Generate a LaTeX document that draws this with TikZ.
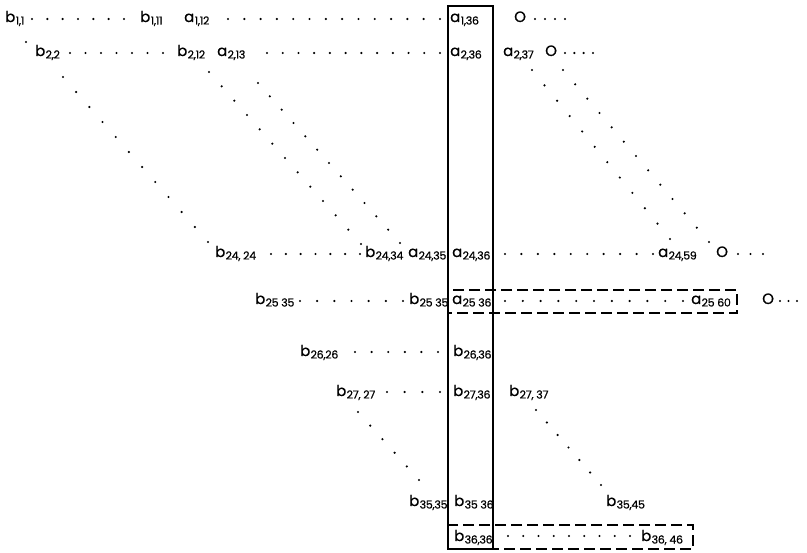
\documentclass[tikz,border=0pt]{standalone}
\usepackage{fontspec}
\setmainfont{Poppins}[FakeBold=0.6]
\newfontfamily\subfnt{Poppins}[FakeBold=0.6, LetterSpace=-2.5]
\usetikzlibrary{calc}
\newcommand\lb[2]{#1\kern0.3pt\raisebox{-2.5pt}{\subfnt\fontsize{11}{12}\selectfont#2}}
\newcommand\dotrun[5]{%
  \path ($(#1.base west)+#2$) coordinate (ds) ($(#3.base west)+#4$) coordinate (de);
  \foreach \k in {1,...,#5}{\fill ($(ds)!{(\k-1)/(#5-1)}!(de)$) circle[radius=1.2pt];}}
\tikzset{
  lab/.style={anchor=base west, inner sep=0pt, text height=10pt, text depth=3pt,
    font=\fontsize{15}{17}\selectfont},
  solidbox/.style={line width=1.4pt},
  dashbox/.style={line width=1.2pt, dash pattern=on 11pt off 5pt}
}
\begin{document}
\begin{tikzpicture}[x=1pt,y=-1pt]
\useasboundingbox (0,0) rectangle (807,553);
\fill[white] (0,0) rectangle (807,553);
% boxes
\draw[dashbox] (448,290) rectangle (737,313);
\draw[dashbox] (448,525) rectangle (693,549);
\draw[solidbox] (448,6) rectangle (493,549);
% row 1
\node[lab] (b11)  at (5,22)   {\lb{b}{1,1}};
\node[lab] (b111) at (140,22) {\lb{b}{1,11}};
\node[lab] (a112) at (184,22) {\lb{a}{1,12}};
\node[lab] (a136) at (450,22) {\lb{a}{1,36}};
\node[lab] (o1)   at (514,22) {O};
% row 2
\node[lab] (b22)  at (35,56)  {\lb{b}{2,2}};
\node[lab] (b212) at (177,56) {\lb{b}{2,12}};
\node[lab] (a213) at (217,56) {\lb{a}{2,13}};
\node[lab] (a236) at (450,56) {\lb{a}{2,36}};
\node[lab] (a237) at (503,56) {\lb{a}{2,37}};
\node[lab] (o2)   at (545,56) {O};
% row 24
\node[lab] (b2424) at (215,257) {\lb{b}{24, 24}};
\node[lab] (b2434) at (365,257) {\lb{b}{24,34}};
\node[lab] (a2435) at (408,257) {\lb{a}{24,35}};
\node[lab] (a2436) at (452,257) {\lb{a}{24,36}};
\node[lab] (a2459) at (658,257) {\lb{a}{24,59}};
\node[lab] (o24)   at (716,257) {O};
% row 25
\node[lab] (b2535a) at (255,304) {\lb{b}{25 35}};
\node[lab] (b2535b) at (409,304) {\lb{b}{25 35}};
\node[lab] (a2536)  at (452,304) {\lb{a}{25 36}};
\node[lab] (a2560)  at (691,304) {\lb{a}{25 60}};
\node[lab] (o25)    at (762,304) {O};
% row 26
\node[lab] (b2626) at (300,356) {\lb{b}{26,26}};
\node[lab] (b2636) at (453,356) {\lb{b}{26,36}};
% row 27
\node[lab] (b2727) at (336,396) {\lb{b}{27, 27}};
\node[lab] (b2736) at (453,396) {\lb{b}{27,36}};
\node[lab] (b2737) at (509,396) {\lb{b}{27, 37}};
% row 35
\node[lab] (b3535) at (409,506) {\lb{b}{35,35}};
\node[lab] (b3536) at (454,506) {\lb{b}{35 36}};
\node[lab] (b3545) at (606,506) {\lb{b}{35,45}};
% row 36
\node[lab] (b3636) at (454,541) {\lb{b}{36,36}};
\node[lab] (b3646) at (641,541) {\lb{b}{36, 46}};
% horizontal dotted runs
\dotrun{b11}{(27,-3)}{b111}{(-16,-3)}{7}
\dotrun{a112}{(44,-3)}{a136}{(-10,-3)}{14}
\dotrun{o1}{(21,-3)}{o1}{(51,-3)}{4}
\dotrun{b22}{(35,-3)}{b212}{(-14,-3)}{7}
\dotrun{a213}{(50,-3)}{a236}{(-10,-3)}{12}
\dotrun{o2}{(20,-3)}{o2}{(48,-3)}{4}
\dotrun{b2424}{(56,-3)}{b2434}{(-5,-3)}{7}
\dotrun{a2436}{(53,-3)}{a2459}{(-5,-3)}{10}
\dotrun{o24}{(22,-3)}{o24}{(47,-3)}{3}
\dotrun{b2535a}{(45,-3)}{b2535b}{(-6,-3)}{7}
\dotrun{a2536}{(53,-3)}{a2560}{(-8,-3)}{11}
\dotrun{o25}{(18,-3)}{o25}{(35,-3)}{3}
\dotrun{b2626}{(55,-4)}{b2636}{(-15,-4)}{6}
\dotrun{b2727}{(51,-4)}{b2736}{(-13,-4)}{4}
\dotrun{b3636}{(54,-5)}{b3646}{(-11,-5)}{9}
% diagonal dotted runs
\fill ($(b11.base west)+(21,20)$) circle[radius=1.2pt];
\dotrun{b22}{(28,21)}{b2424}{(-7,-15)}{12}
\dotrun{b212}{(32,16)}{b2434}{(-4,-13)}{13}
\dotrun{a213}{(41,27)}{a2435}{(-8,-14)}{13}
\dotrun{a237}{(29,14)}{a2459}{(12,-18)}{12}
\dotrun{o2}{(18,14)}{o24}{(-7,-15)}{13}
\dotrun{b2727}{(22,16)}{b3535}{(10,-26)}{6}
\dotrun{b2737}{(27,14)}{b3545}{(-5,-21)}{7}
\end{tikzpicture}
\end{document}
